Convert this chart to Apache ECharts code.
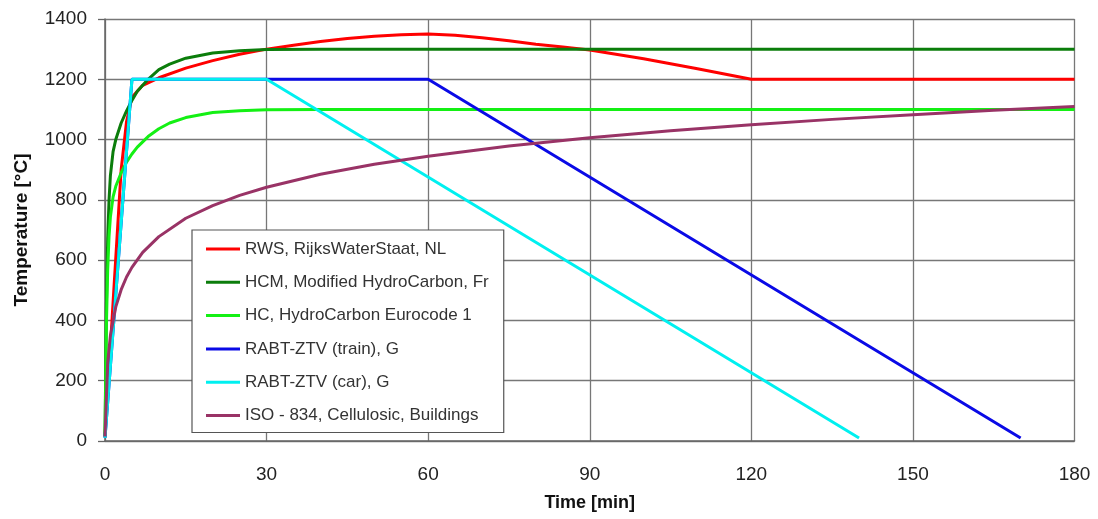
<!DOCTYPE html>
<html>
<head>
<meta charset="utf-8">
<script src="https://cdn.jsdelivr.net/npm/echarts@6/dist/echarts.min.js"></script>
<style>
html,body{margin:0;padding:0;background:#fff;}
#c{width:1098px;height:519px;}
</style>
</head>
<body>
<div id="c"></div>
<script>
const seriesNames = [
  'RWS, RijksWaterStaat, NL',
  'HCM, Modified HydroCarbon, Fr',
  'HC, HydroCarbon Eurocode 1',
  'RABT-ZTV (train), G',
  'RABT-ZTV (car), G',
  'ISO - 834, Cellulosic, Buildings'
];
const rwsT = [0,1.5,3,4,5,7,10,15,20,25,30,35,40,45,50,55,60,65,70,75,80,85,90,100,110,120,180];
const rwsV = [15,460,900,1060,1140,1180,1205,1237,1262,1283,1300,1313,1325,1335,1343,1348,1350,1346,1338,1328,1316,1307,1297,1268,1235,1200,1200];
const hcmT = [0,0.25,0.5,0.75,1,1.5,2,3,4,5,6,8,10,12,15,20,25,30,40,180];
const hcmV = [15,440,670,800,880,960,1000,1055,1095,1130,1160,1200,1232,1250,1270,1287,1295,1299,1300,1300];
const hcT = [0,0.25,0.5,0.75,1,1.5,2,3,4,5,6,8,10,12,15,20,25,30,40,180];
const hcV = [15,373,568,679,743,810,845,890,925,952,975,1010,1036,1055,1073,1090,1096,1099,1100,1100];
const trainT = [0,5,60,170];
const trainV = [10,1200,1200,10];
const carT = [0,5,30,140];
const carV = [10,1200,1200,10];
const isoT = [0,0.5,1,2,3,4,5,7,10,15,20,25,30,40,50,60,75,90,105,120,135,150,165,180];
const isoV = [15,261,349,445,502,544,576,626,678,739,781,815,842,885,918,945,979,1006,1029,1049,1067,1082,1097,1110];
const xTicks = [0,30,60,90,120,150,180];
const yTicks = [0,200,400,600,800,1000,1200,1400];

const colors = ['#ff0000','#0b7d0b','#14f014','#0a0ae6','#00f0f0','#993366'];
const sets = [[rwsT,rwsV],[hcmT,hcmV],[hcT,hcV],[trainT,trainV],[carT,carV],[isoT,isoV]];
const FONT = "'Liberation Sans', Arial, sans-serif";

const chart = echarts.init(document.getElementById('c'), null, {renderer:'canvas'});
chart.setOption({
  animation:false,
  backgroundColor:'#fff',
  color: colors,
  grid:{left:105, right:23.5, top:19, bottom:78, containLabel:false},
  xAxis:{
    type:'value', min:xTicks[0], max:xTicks[xTicks.length-1], interval:30,
    name:'Time [min]', nameLocation:'middle', nameGap:53,
    nameTextStyle:{fontFamily:FONT, fontSize:18, fontWeight:'bold', color:'#111'},
    axisLine:{show:true, lineStyle:{color:'#666', width:1.5}},
    axisTick:{show:false},
    axisLabel:{margin:24, fontFamily:FONT, fontSize:19, color:'#222', formatter:v=>String(v)},
    splitLine:{show:true, lineStyle:{color:'#777', width:1.3}}
  },
  yAxis:{
    type:'value', min:yTicks[0], max:yTicks[yTicks.length-1], interval:200,
    name:'Temperature [°C]', nameLocation:'middle', nameGap:74, nameRotate:90,
    nameTextStyle:{fontFamily:FONT, fontSize:19, fontWeight:'bold', color:'#111'},
    axisLine:{show:true, lineStyle:{color:'#666', width:1.5}},
    axisTick:{show:true, inside:false, length:7, lineStyle:{color:'#666', width:1.3}},
    axisLabel:{margin:18, fontFamily:FONT, fontSize:19, color:'#222', formatter:v=>String(v)},
    splitLine:{show:true, lineStyle:{color:'#777', width:1.3}}
  },
  legend:{
    orient:'vertical', left:192, top:230,
    icon:'rect', itemWidth:34, itemHeight:3, itemGap:15.3,
    padding:[10,15,8,14],
    backgroundColor:'#fff', borderColor:'#555', borderWidth:1.2, borderRadius:0,
    textStyle:{fontFamily:FONT, fontSize:17, color:'#333', lineHeight:18},
    data: seriesNames
  },
  series: sets.map((s,i)=>({
    name: seriesNames[i],
    type:'line',
    showSymbol:false, symbol:'none',
    lineStyle:{width:3, color:colors[i]},
    itemStyle:{color:colors[i]},
    data: s[0].map((t,j)=>[t, s[1][j]])
  }))
});
</script>
</body>
</html>
